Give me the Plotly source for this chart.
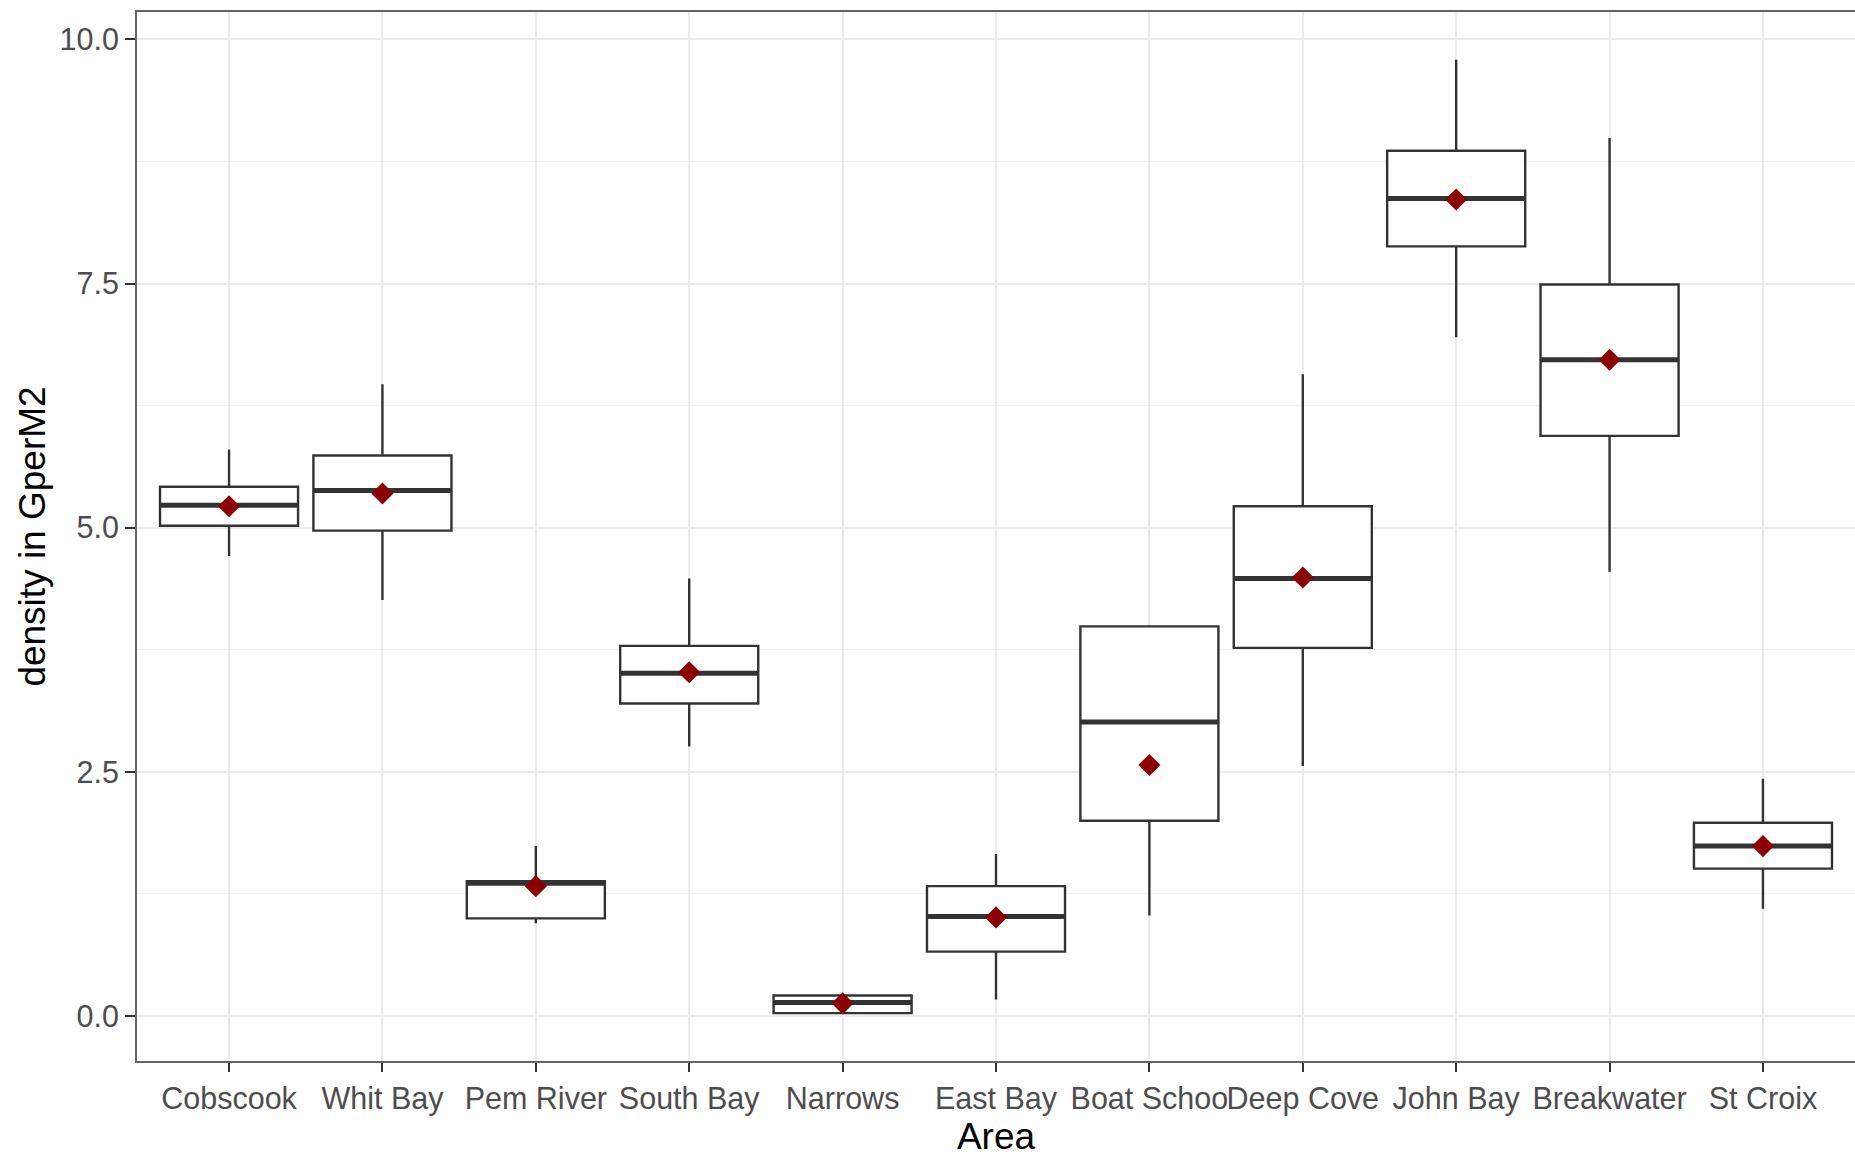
import plotly.graph_objects as go

areas = ["Cobscook", "Whit Bay", "Pem River", "South Bay", "Narrows", "East Bay",
         "Boat Schoo", "Deep Cove", "John Bay", "Breakwater", "St Croix"]
lower_whisker = [4.71, 4.26, 0.95, 2.76, 0.02, 0.17, 1.03, 2.56, 6.95, 4.55, 1.10]
q1 =            [5.02, 4.97, 1.00, 3.20, 0.03, 0.66, 2.00, 3.77, 7.88, 5.94, 1.51]
median =        [5.23, 5.38, 1.36, 3.51, 0.14, 1.02, 3.01, 4.48, 8.37, 6.72, 1.74]
q3 =            [5.42, 5.74, 1.38, 3.79, 0.21, 1.33, 3.99, 5.22, 8.86, 7.49, 1.98]
upper_whisker = [5.80, 6.47, 1.74, 4.48, 0.22, 1.66, 3.99, 6.57, 9.79, 8.99, 2.43]
mean =          [5.22, 5.35, 1.33, 3.52, 0.13, 1.01, 2.57, 4.49, 8.36, 6.72, 1.74]
y_ticks = [0.0, 2.5, 5.0, 7.5, 10.0]

idx = list(range(len(areas)))
half = 0.45

fig = go.Figure()
fig.add_trace(go.Box(
    x=idx, q1=q1, median=median, q3=q3,
    lowerfence=lower_whisker, upperfence=upper_whisker,
    width=2 * half, whiskerwidth=0, boxpoints=False,
    fillcolor="white", line=dict(color="#333333", width=2.4),
    showlegend=False, hoverinfo="skip",
))

# thicker median lines (ggplot fatten)
mx, my = [], []
for i, m in zip(idx, median):
    mx += [i - half, i + half, None]
    my += [m, m, None]
fig.add_trace(go.Scatter(x=mx, y=my, mode="lines",
                         line=dict(color="#333333", width=5),
                         showlegend=False, hoverinfo="skip"))

fig.add_trace(go.Scatter(x=idx, y=mean, mode="markers",
                         marker=dict(symbol="diamond", size=17, color="#8B0000"),
                         showlegend=False))

font = "Liberation Sans, Arial, sans-serif"
fig.update_layout(
    width=1855, height=1159,
    margin=dict(l=137, r=0, t=12, b=98, autoexpand=False),
    paper_bgcolor="white", plot_bgcolor="white",
    font=dict(family=font, color="#4D4D4D"),
    xaxis=dict(
        range=[-0.6, len(areas) - 0.4],
        tickmode="array", tickvals=idx, ticktext=areas,
        tickangle=0, automargin=False,
        tickfont=dict(size=30.5, color="#4D4D4D"),
        ticks="outside", ticklen=9, tickwidth=2, tickcolor="#333333",
        showgrid=True, gridcolor="#EBEBEB", gridwidth=2,
        showline=True, linecolor="#666666", linewidth=2, mirror=True,
        zeroline=False,
        title=dict(text="Area", font=dict(size=37, color="black"), standoff=5),
    ),
    yaxis=dict(
        range=[-0.46, 10.28], automargin=False,
        tickmode="array", tickvals=y_ticks, ticktext=[f"{v:.1f}" for v in y_ticks],
        tickfont=dict(size=30.5, color="#4D4D4D"),
        ticks="outside", ticklen=10, tickwidth=2, tickcolor="#333333",
        showgrid=True, gridcolor="#EBEBEB", gridwidth=2,
        minor=dict(tick0=0, dtick=1.25, showgrid=True, gridcolor="#F2F2F2", gridwidth=1),
        showline=True, linecolor="#666666", linewidth=2, mirror=True,
        zeroline=False,
        title=dict(text="density in GperM2", font=dict(size=37, color="black"), standoff=3),
    ),
)

fig.write_html("out.html", config={"displayModeBar": False},
               post_script="document.body.style.margin='0';")
